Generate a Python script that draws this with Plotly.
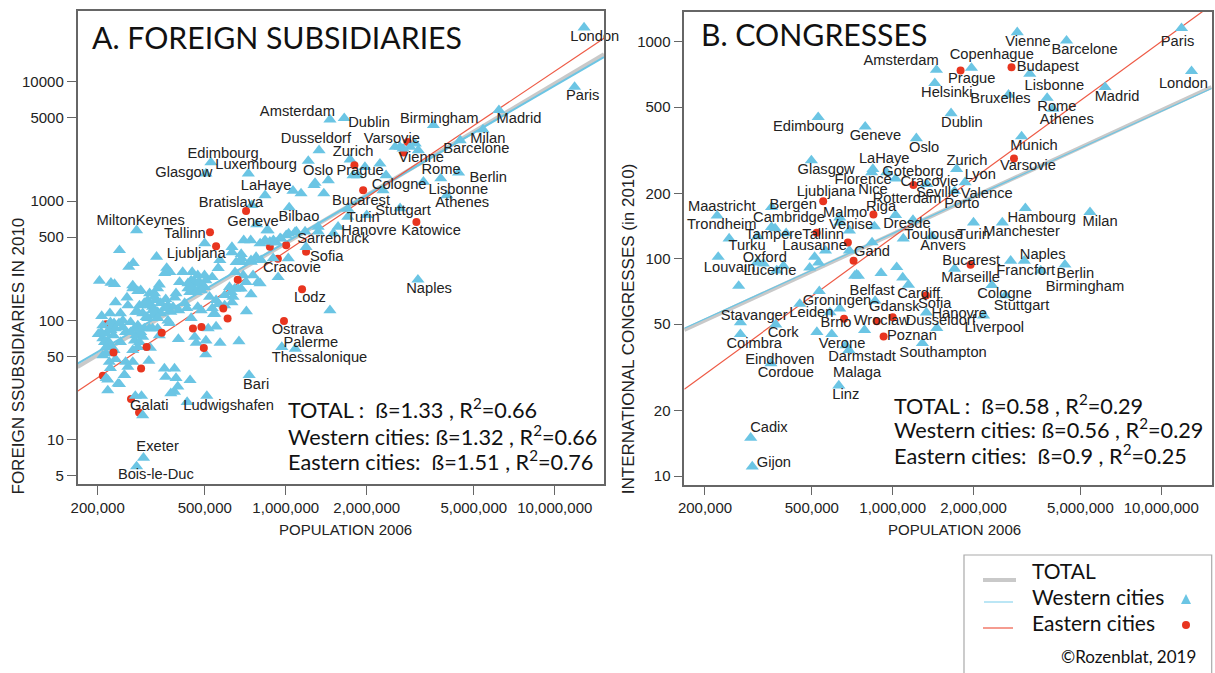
import numpy as np
import plotly.graph_objects as go

W, H = 1215, 673

# ---- Panel A: populations in thousands, subsidiaries as counts ----
WEST_A_POP = [12850,11850,6200,5410,4450,3540,1460,1650,279,241,331,271,261,500,569,561,631,631,698,741,831,873,921,953,1004,1082,
683,654,683,743,776,810,898,1022,648,695,756,937,803,789,631,743,714,670,570,731,967,1085,1460,3100,203,224,231,270,270,289,312,282,339,334,
361,355,371,414,403,391,387,449,471,499,533,445,459,478,505,433,445,459,478,499,440,521,551,593,618,646,683,712,533,539,561,471,485,445,551,515,459,505,465,504,399,
233,257,259,286,282,307,325,329,320,358,365,354,381,400,421,429,334,320,343,365,370,222,207,243,248,223,209,265,230,240,201,215,224,229,254,218,209,243,274,286,277,298,311,320,334,294,289,339,
270,314,282,215,209,230,226,233,221,223,254,270,259,251,310,215,218,241,218,354,386,358,391,441,397,386,374,430,509,291,276,294,296,279,238,252,
527,505,726,838,1064,1140,1030,748,780,851,1213,1330,1274,2550,2660,2730,2900,3030,3110,3770,4390,3250,3970,2660,2300,2360,2240,1970,1735,1440,1285,1385,1700,1700,2000,1565,1505,1320,1320,1190,1095,1180,1025,960,900,838,803,860,1780,1850,
298,311,325,343,358,374,294,307,320,334,471,491,450,465,433,486,223,233,248,255,206,212,221,215,277,303,265,282,274,665,637,593,545,685,745,627]
WEST_A_VAL = [28400,9040,5770,3970,3234,4320,4820,4950,570,388,342,303,281,443,320,275,413,373,470,470,458,458,450,488,518,548,
360,308,308,320,340,320,332,332,254,239,239,231,205,210,142,166,119.6,67,65,35,60,58,122,220,215,207,202,197,186,179,169,176,200,186,
276,249,254,255,210,169,156,255,239,239,231,217,210,210,217,186,186,179,186,191,173,158,148,163,191,185,185,210,127,113,137,130,122,105,89,86,73,68,65,52,70,
142,156,134,134,118,148,169,148,130,151,134,127,130,122,140,127,118,110,115,100,95,115,109,115,100,97,91,97,95,95,77,78,83,75,80,68,71,66,68,66,75,86,86,86,86,73,80,75,
56.5,59,60,53,51,56.5,60,47.5,45,40,45,45,41,35,46,33,32,29.3,26,39.6,39.6,33.7,33,31.7,28,25.3,24.6,20.8,23.4,23.4,23.4,16.1,7.1,6,29.6,34.9,
2110,1700,1700,1120,1220,1160,885,924,640,570,2170,2667,1360,2840,2840,2750,2840,3030,2667,1550,1730,1450,1120,870,1233,1647,2060,1930,2230,1495,1420,1160,862,738,762,610,538,610,556,412,556,556,535,485,470,470,442,570,1647,1647,
140,134,158,140,127,118,115,105,122,105,205,197,191,173,205,179,86,86,88,80,80,66,64,60,118,107,80,91,86,185,158,134,114,332,310,173]
# eastern cities drawn above the triangles
EAST_A_POP = [523,551,712,1800,1940,3060,663,1150,586,608,486,452,985,496,346,304,229,290]
EAST_A_VAL = [550,420,828,2000,1233,670,220,183,126,104,88.5,86,99,59,79,60,54,39.6]
# eastern cities partly hidden by the triangles
EAST_A_UNDER_POP = [2840,2740,1190,873,1004,935,215,209,266,285]
EAST_A_UNDER_VAL = [3130,2550,377,415,428,330,93,34.5,22,17]

LINE_POP_A = [168.3,15240]
TOTAL_A = [40.9,17000]
WESTERN_A = [43.6,16100]
EASTERN_A = [25.6,23100]

LABELS_A = ["London","Paris","Madrid","Milan","Barcelone","Birmingham","Amsterdam","Dublin","Dusseldorf","Varsovie","Zurich","Vienne","Rome","Berlin","Oslo","Prague","Cologne","Lisbonne","Athenes","Bucarest","Stuttgart","Turin","Hanovre","Katowice","Sarrebruck","Sofia","Bilbao","Geneve","Bratislava","LaHaye","Luxembourg","Edimbourg","Glasgow","MiltonKeynes","Tallinn","Ljubljana","Cracovie","Lodz","Ostrava","Palerme","Thessalonique","Bari","Naples","Galati","Ludwigshafen","Exeter","Bois-le-Duc"]
LABEL_A_POP = [14080,12700,7360,5640,5110,3720,1105,2040,1295,2480,1780,3190,3780,5660,1320,1890,2640,4380,4530,1905,2730,1940,2040,3470,1500,1420,1120,756,626,845,776,585,418,289,422,465,1055,1230,1105,1240,1335,776,3410,311,613,334,329]
LABEL_A_VAL = [23600,7570,4850,3320,2690,4880,5550,4490,3320,3280,2570,2290,1814,1560,1790,1790,1358,1233,950,1000,818,718,558,558,480,340,730,665,960,1330,1985,2450,1720,680,525,360,275,154,83,65,48,28.8,183,19,19.3,8.6,5.1]

# ---- Panel B ----
WEST_B_POP = [2910,4440,1965,1455,1435,3240,2700,3760,3950,6180,12970,11900,1650,1225,3020,1730,1860,1700,1340,2000,2560,3120,5430,1400,2750,3090,3560,4380,1700,2340,2630,2180,1335,1460,1290,
528,790,498,844,835,950,1025,222,354,354,365,314,246,401,635,635,690,855,1025,1190,1095,838,690,562,224,512,530,491,312,330,392,370,267,533,271,271,367,451,584,635,522,593,786,669,687,860,352,630,296,300,734,745,722,905,1035,1090,1145]
WEST_B_VAL = [1105,1010,757,741,644,711,569,551,491,617,731,1153,468,359,366,259,225,205,221,147,147,171,164,127,98,98,88.3,94,90,75.6,67.8,54.8,56.6,48,40.9,
449,406,284,259,250,250,234,158,173,140,138,127,124,131,155,147,135,141,159,151,124,119,109,109,102,102,96,91,96,95,92.7,88.3,75,71,51,45,49.8,62,56.7,59,46,45,47,40,38,64,33,26.1,15,11.06,84.7,83.5,83.5,86,91.5,82,75.9]
EAST_B_POP = [1790,2770,2830,1195,551,848,521,681,715,1950,1330,659,873,1000,925]
EAST_B_VAL = [736,762,290,219,184,160,132,119,98,94,67.8,53,51.6,53.8,43.9]
EAST_B_UNDER_POP = []
EAST_B_UNDER_VAL = []

LINE_POP_B = [167.5,15400]
TOTAL_B = [47,618]
WESTERN_B = [47.9,609]
EASTERN_B = [25.1,1476]

LABELS_B = ["Vienne","Barcelone","Copenhague","Budapest","Amsterdam","Prague","Helsinki","Bruxelles","Lisbonne","Rome","Madrid","Paris","London","Athenes","Dublin","Oslo","Munich","Varsovie","Zurich","Lyon","Valence","Seville","Cracovie","Goteborg","LaHaye","Glasgow","Florence","Nice","Ljubljana","Rotterdam","Porto","Riga","Malmo","Bergen","Cambridge","Maastricht","Trondheim","Venise","Dresde","Tallinn","Tampere","Turin","Toulouse","Manchester","Hambourg","Milan","Turku","Lausanne","Gand","Anvers","Oxford","Louvain","Lucerne","Naples","Bucarest","Francfort","Berlin","Marseille","Birmingham","Cologne","Stuttgart","Cardiff","Belfast","Groningen","Gdansk","Sofia","Hanovre","Leiden","Stavanger","Brno","Wroclaw","Dusseldorf","Liverpool","Cork","Poznan","Coimbra","Verone","Southampton","Eindhoven","Darmstadt","Cordoue","Malaga","Linz","Cadix","Gijon","Edimbourg","Geneve"]
LABEL_B_POP = [3190,5180,2340,3780,1075,1970,1590,2520,4000,4090,6850,11500,12100,4450,1810,1310,3360,3190,1890,2120,2240,1470,1370,1190,930,565,776,845,565,1130,1810,905,665,426,411,231,231,700,1130,551,361,2000,1420,3020,3590,5920,287,512,838,1540,334,247,349,3620,1960,3130,4790,1950,5200,2610,3020,1250,838,620,1015,1435,1770,498,305,615,910,1510,2390,391,1180,305,648,1540,380,769,400,737,669,346,361,486,862]
LABEL_B_VAL = [993,910,863,762,809,669,577,541,621,497,553,991,635,433,420,322,329,266,280,242,198,200,224,249,288,255,229,206,202,187,178,172,162,176,153,173,142,142,144.5,128,128,128,128,133,153,147,114,114,107,114,101,90,87.4,104,97.5,88,84.7,81.5,73.8,68.5,60.5,68.5,70.6,63.8,59.7,61.7,55.4,56.2,54.4,50.4,51.4,51.4,47.9,45.3,44,40.5,40.3,36.9,34.1,35.2,29.7,29.6,23.5,16.6,11.5,402,366]

POP_TICKS = [200000,500000,1000000,2000000,5000000,10000000]
POP_TICK_TEXT = ["200,000","500,000","1,000,000","2,000,000","5,000,000","10,000,000"]
A_TICKS = [5,10,50,100,500,1000,5000,10000]
B_TICKS = [10,20,50,100,200,500,1000]

STATS_A = ["TOTAL :  ß=1.33 , R<sup>2</sup>=0.66","Western cities: ß=1.32 , R<sup>2</sup>=0.66","Eastern cities:  ß=1.51 , R<sup>2</sup>=0.76"]
STATS_B = ["TOTAL :  ß=0.58 , R<sup>2</sup>=0.29","Western cities: ß=0.56 , R<sup>2</sup>=0.29","Eastern cities:  ß=0.9 , R<sup>2</sup>=0.25"]

BLUE, RED, GREY = "#6BC5E4", "#E8351F", "#C9C9C9"
HELV = "Liberation Sans"
AVENIR = "Lato"
INK = "#222222"

def K(v):
    return np.array(v, dtype=float) * 1000

fig = go.Figure()

def panel(xa, ya, wp, wv, ep, ev, up, uv, lx, tot, wes, eas, names, nx, ny, west_w):
    kw = dict(xaxis=xa, yaxis=ya, showlegend=False, hoverinfo="skip")
    dot = dict(symbol="circle", size=8, color=RED, line=dict(width=0))
    fig.add_trace(go.Scatter(x=K(lx), y=tot, mode="lines", line=dict(color=GREY, width=4), **kw))
    fig.add_trace(go.Scatter(x=K(lx), y=wes, mode="lines", line=dict(color=BLUE, width=west_w), **kw))
    fig.add_trace(go.Scatter(x=K(lx), y=eas, mode="lines", line=dict(color="#EE5A45", width=1.2), **kw))
    if up:
        fig.add_trace(go.Scatter(x=K(up), y=uv, mode="markers", marker=dot, **kw))
    fig.add_trace(go.Scatter(x=K(wp), y=wv, mode="markers", cliponaxis=False,
                             marker=dict(symbol="triangle-up", size=11.5, color=BLUE, line=dict(width=0)), **kw))
    fig.add_trace(go.Scatter(x=K(ep), y=ev, mode="markers", marker=dot, **kw))
    fig.add_trace(go.Scatter(x=K(nx), y=ny, mode="text", text=names, textposition="middle center", cliponaxis=False,
                             textfont=dict(family=HELV, size=14.7, color=INK), **kw))

panel("x", "y", WEST_A_POP, WEST_A_VAL, EAST_A_POP, EAST_A_VAL, EAST_A_UNDER_POP, EAST_A_UNDER_VAL, LINE_POP_A, TOTAL_A, WESTERN_A, EASTERN_A, LABELS_A, LABEL_A_POP, LABEL_A_VAL, 2)
panel("x2", "y2", WEST_B_POP, WEST_B_VAL, EAST_B_POP, EAST_B_VAL, EAST_B_UNDER_POP, EAST_B_UNDER_VAL, LINE_POP_B, TOTAL_B, WESTERN_B, EASTERN_B, LABELS_B, LABEL_B_POP, LABEL_B_VAL, 1.2)

def px(x): return x / W
def py(y): return 1 - y / H

axis_common = dict(type="log", showgrid=False, zeroline=False, showline=True, mirror=True, automargin=False,
                   linecolor="#666666", linewidth=1.5, ticks="outside", ticklen=9, tickwidth=1, tickcolor="#666666",
                   tickfont=dict(family=HELV, size=15, color=INK))

fig.update_layout(
    width=W, height=H, margin=dict(l=0, r=0, t=0, b=0, autoexpand=False), paper_bgcolor="white", plot_bgcolor="white",
    showlegend=False,
    xaxis=dict(axis_common, domain=[px(77.5), px(604)], range=[5.226, 7.183], tickvals=POP_TICKS, ticktext=POP_TICK_TEXT, anchor="y"),
    yaxis=dict(axis_common, domain=[py(484), py(11)], range=[0.6315, 4.592], tickvals=A_TICKS, ticktext=[str(t) for t in A_TICKS], anchor="x"),
    xaxis2=dict(axis_common, domain=[px(684.3), px(1211.7)], range=[5.224, 7.188], tickvals=POP_TICKS, ticktext=POP_TICK_TEXT, anchor="y2"),
    yaxis2=dict(axis_common, domain=[py(484.7), py(11.7)], range=[0.96, 3.138], tickvals=B_TICKS, ticktext=[str(t) for t in B_TICKS], anchor="x2"),
)

def note(text, x, y, size, anchor="left", family=AVENIR, angle=0, color="#111111"):
    fig.add_annotation(text=text, xref="paper", yref="paper", x=px(x), y=py(y), xanchor=anchor, yanchor="middle",
                       showarrow=False, textangle=angle, font=dict(family=family, size=size, color=color))

note("POPULATION 2006", 345.5, 529, 15, anchor="center", family=HELV, color=INK)
note("POPULATION 2006", 954, 529, 15, anchor="center", family=HELV, color=INK)
note("FOREIGN SSUBSIDIARIES IN 2010", 18, 356.5, 17, anchor="center", family=HELV, angle=-90, color=INK)
note("INTERNATIONAL CONGRESSES (in 2010)", 628.7, 328.5, 17, anchor="center", family=HELV, angle=-90, color=INK)

note("A. FOREIGN SUBSIDIARIES", 90, 37, 30.2)
note("B. CONGRESSES", 699, 34, 30.2)
for t, y in zip(STATS_A, [409, 435, 460]):
    note(t, 286, y, 21.7)
for t, y in zip(STATS_B, [404, 429, 454]):
    note(t, 892, y, 21.7)

# key box
LINE_KEY = [(580, GREY, 4, 983, 1016), (602, "#8ED6EE", 1.2, 984, 1013), (628, "#EE5A45", 1.2, 983, 1013)]
shapes = [dict(type="path", xref="paper", yref="paper",
               path=f"M {px(964)} {py(680)} L {px(964)} {py(555)} L {px(1211.7)} {py(555)} L {px(1211.7)} {py(680)}",
               line=dict(color="#AAAAAA", width=1.2))]
for y, c, w, a, b in LINE_KEY:
    shapes.append(dict(type="line", xref="paper", yref="paper", x0=px(a), x1=px(b), y0=py(y), y1=py(y), line=dict(color=c, width=w)))
shapes.append(dict(type="path", xref="paper", yref="paper", fillcolor=BLUE, line=dict(width=0),
                   path=f"M {px(1181)} {py(604)} L {px(1191)} {py(604)} L {px(1186)} {py(594)} Z"))
shapes.append(dict(type="circle", xref="paper", yref="paper", fillcolor=RED, line=dict(width=0),
                   x0=px(1182), x1=px(1190), y0=py(621), y1=py(629)))
fig.update_layout(shapes=shapes)
note("TOTAL", 1030, 570.5, 21)
note("Western cities", 1030, 596.5, 21)
note("Eastern cities", 1030, 622.5, 21)
note("©Rozenblat, 2019", 1198, 656, 17, anchor="right")

fig.write_html("out.html", config=dict(displayModeBar=False),
               post_script="document.body.style.margin='0';document.body.style.overflow='hidden';")
